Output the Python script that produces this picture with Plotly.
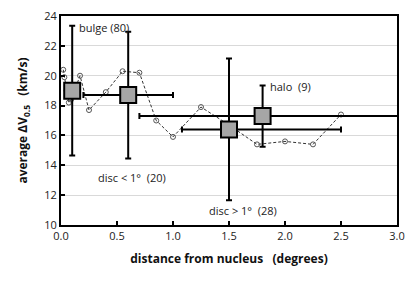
import plotly.graph_objects as go

# small-sample running points
pts_x = [0.02, 0.03, 0.05, 0.07, 0.09, 0.17, 0.25, 0.40, 0.55, 0.70, 0.85, 1.00, 1.25, 1.50, 1.75, 2.00, 2.25, 2.50]
pts_y = [20.4, 19.9, 19.0, 18.2, 18.4, 20.0, 17.7, 18.9, 20.3, 20.2, 17.0, 15.9, 17.9, 16.7, 15.4, 15.6, 15.4, 17.4]

# group averages
grp_names = ["bulge (80)", "disc < 1°  (20)", "disc > 1°  (28)", "halo  (9)"]
grp_x = [0.1, 0.6, 1.5, 1.8]
grp_y = [19.0, 18.7, 16.4, 17.3]
grp_yerr = [4.35, 4.25, 4.75, 2.05]
grp_xerr_plus = [0.0, 0.4, 1.0, 1.5]
grp_xerr_minus = [0.0, 0.4, 0.42, 1.1]

label_x = [0.14, 0.63, 1.30, 1.85]
label_y = [23.2, 13.2, 11.0, 19.3]
label_anchor = ["left", "center", "left", "left"]

fig = go.Figure()

fig.add_trace(go.Scatter(
    x=pts_x, y=pts_y, mode="lines+markers",
    line=dict(color="#333333", width=1, dash="3px,2px"),
    marker=dict(symbol="circle-open", size=5, color="#555555", line=dict(width=1)),
    showlegend=False, hoverinfo="skip"))

fig.add_trace(go.Scatter(
    x=grp_x, y=grp_y, mode="markers",
    marker=dict(symbol="square", size=16, color="#a6a6a6", line=dict(color="black", width=2)),
    error_y=dict(type="data", array=grp_yerr, color="black", thickness=2, width=3),
    error_x=dict(type="data", symmetric=False, array=grp_xerr_plus, arrayminus=grp_xerr_minus,
                 color="black", thickness=2, width=3),
    showlegend=False))

for name, lx, ly, anc in zip(grp_names, label_x, label_y, label_anchor):
    fig.add_annotation(x=lx, y=ly, text=name, showarrow=False, xanchor=anc,
                       font=dict(size=11, color="#222222", family="Open Sans"))

# page body has an 8px margin, so the figure is offset by 8px
fig.update_layout(
    width=407, height=281,
    margin=dict(l=53, r=18, t=8, b=64),
    paper_bgcolor="white", plot_bgcolor="white",
    font=dict(family="Open Sans", size=11, color="#222222"),
)
fig.update_xaxes(
    range=[0, 3.0], tickvals=[0, 0.5, 1.0, 1.5, 2.0, 2.5, 3.0],
    ticktext=["0.0", "0.5", "1.0", "1.5", "2.0", "2.5", "3.0"],
    ticks="inside", ticklen=4, tickwidth=2, tickcolor="black",
    showline=True, linecolor="black", linewidth=2, mirror=True,
    showgrid=False, zeroline=False, automargin=False, ticklabeloverflow="allow",
    title=dict(text="<b>distance from nucleus   (degrees)</b>", font=dict(size=12, color="#111111"), standoff=12),
)
fig.update_yaxes(
    range=[10, 24], dtick=2,
    ticks="inside", ticklen=4, tickwidth=2, tickcolor="black",
    showline=True, linecolor="black", linewidth=2, mirror=True,
    showgrid=True, gridcolor="#d9d9d9", gridwidth=1, zeroline=False, automargin=False,
    ticklabeloverflow="allow",
    title=dict(text="<b>average ΔV<sub>0.5</sub>   (km/s)</b>", font=dict(size=12, color="#111111"), standoff=14),
)

fig.write_html("out.html")
